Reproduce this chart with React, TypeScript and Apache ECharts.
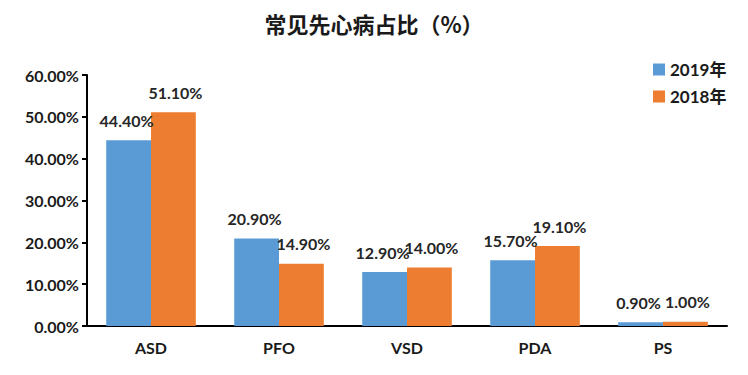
import React, { useEffect, useRef } from "react";
import * as echarts from "echarts";

const categories = ["ASD", "PFO", "VSD", "PDA", "PS"];
const values2019 = [44.4, 20.9, 12.9, 15.7, 0.9];
const values2018 = [51.1, 14.9, 14.0, 19.1, 1.0];
const seriesNames = ["2019年", "2018年"];
const titleText = "常见先心病占比（%）";

export default function App() {
  const ref = useRef<HTMLDivElement>(null);
  useEffect(() => {
    const chart = echarts.init(ref.current!, null, { renderer: "svg" });
    const font = "Lato, 'Noto Sans CJK SC', sans-serif";
    const labelStyle = (dx: number) => ({
      show: true,
      position: "top" as const,
      distance: 12,
      offset: [dx, 0],
      formatter: (p: any) => p.value.toFixed(2) + "%",
      fontFamily: font,
      fontWeight: "bold" as const,
      fontSize: 16,
      color: "#262626",
    });
    chart.setOption({
      animation: false,
      title: {
        text: titleText,
        left: "center",
        top: 7,
        textStyle: { fontFamily: "'Noto Sans CJK SC', sans-serif", fontSize: 22, fontWeight: "bold", color: "#1a1a1a" },
      },
      legend: {
        orient: "vertical",
        left: 648,
        top: 56,
        itemWidth: 12,
        itemHeight: 12,
        itemGap: 10,
        icon: "rect",
        textStyle: { fontFamily: font, fontSize: 17, fontWeight: "bold", color: "#1a1a1a" },
        data: seriesNames,
      },
      grid: { left: 87, right: 21, top: 75, bottom: 49, containLabel: false },
      xAxis: {
        type: "category",
        data: categories,
        axisLine: { lineStyle: { color: "#000", width: 2 } },
        axisTick: { show: false },
        axisLabel: { margin: 13, fontFamily: font, fontWeight: "bold", fontSize: 16, color: "#1a1a1a" },
      },
      yAxis: {
        type: "value",
        min: 0,
        max: 60,
        interval: 10,
        axisLine: { show: true, lineStyle: { color: "#000", width: 2 } },
        axisTick: { show: true, length: 5, lineStyle: { color: "#000", width: 2 } },
        splitLine: { show: false },
        axisLabel: {
          margin: 8,
          formatter: (v: number) => v.toFixed(2) + "%",
          fontFamily: font,
          fontWeight: "bold",
          fontSize: 16,
          color: "#1a1a1a",
        },
      },
      series: [
        {
          name: seriesNames[0],
          type: "bar",
          data: values2019,
          barGap: "0%",
          barCategoryGap: "30%",
          itemStyle: { color: "#5B9BD5" },
          label: labelStyle(-2),
        },
        {
          name: seriesNames[1],
          type: "bar",
          data: values2018,
          barGap: "0%",
          barCategoryGap: "30%",
          itemStyle: { color: "#ED7D31" },
          label: labelStyle(2),
        },
      ],
    });
    return () => chart.dispose();
  }, []);
  return <div ref={ref} style={{ width: 748, height: 375, position: "absolute", left: 0, top: 0 }} />;
}
